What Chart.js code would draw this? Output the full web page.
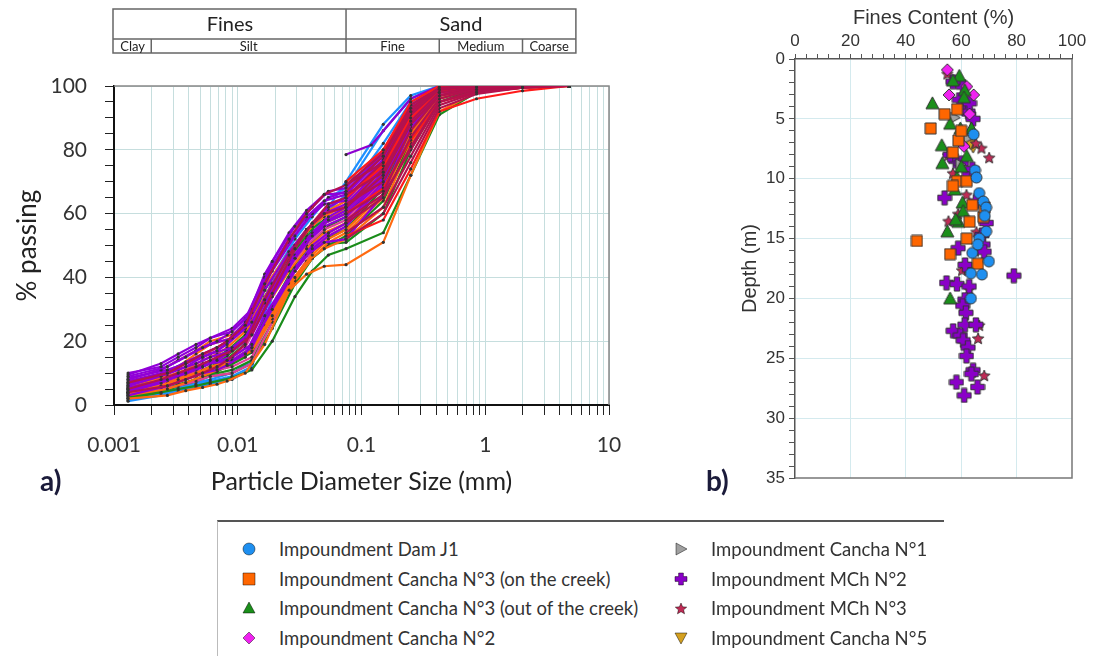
<!DOCTYPE html>
<html>
<head>
<meta charset="utf-8">
<script src="https://cdn.jsdelivr.net/npm/chart.js@4.4.1/dist/chart.umd.min.js"></script>
<style>
  body { margin: 0; background: #fff; width: 1095px; height: 656px; overflow: hidden; position: relative; font-family: Lato, sans-serif; }
  #gsd { position: absolute; left: 0; top: 0; }
  #fines { position: absolute; left: 720px; top: 0; }
  .panel { position: absolute; font-size: 28px; line-height: 32px; color: #1b1b3a; font-weight: bold; }
  #legend { position: absolute; left: 217px; top: 520px; width: 726px; height: 140px; border-top: 2px solid #555; border-left: 1px solid #bbb; }
  .item { position: absolute; font-size: 18.5px; line-height: 22px; color: #333; white-space: nowrap; }
  .icon { position: absolute; }
</style>
</head>
<body>
<canvas id="gsd" width="640" height="510"></canvas>
<canvas id="fines" width="375" height="500"></canvas>
<div class="panel" style="left:40px; top:464px;">a)</div>
<div class="panel" style="left:706px; top:464px;">b)</div>
<div id="legend"></div>
<script>
// ---- a) grain size distribution ----
const hydroDiamA = [0.0013, 0.0024, 0.0033, 0.0046, 0.006, 0.009, 0.013, 0.019, 0.029, 0.04, 0.054];
const hydroDiamB = [0.0013, 0.0027, 0.0038, 0.0052, 0.0068, 0.0082, 0.0115, 0.0165, 0.026, 0.036, 0.05];
const sieveDiam = [0.075, 0.15, 0.25, 0.425, 0.85, 2, 4.75];

// % passing: 11 hydrometer readings then 7 sieves
const bluePass = [
  [1.2, 3, 4.5, 5.5, 6.5, 8, 11.5, 38, 50, 57, 62, 70, 88, 97, 100, 100, 100, 100],
  [2, 3.5, 5, 6.5, 7.5, 9, 12, 34, 47, 55, 61, 66, 82, 95, 99.5, 100, 100, 100],
  [1.5, 4, 5.5, 7, 8, 10, 14, 40, 52, 59, 65, 68, 86, 96, 100, 100, 100, 100]
];
const greenPass = [
  [2.5, 4, 5, 6, 7, 8.5, 11, 20, 34, 42, 47, 49, 54, 72, 91, 98, 99.5, 100],
  [3, 5, 7, 9, 10.5, 12, 15, 27, 40, 47, 52, 55, 68, 86, 97, 99.5, 100, 100],
  [4, 6, 8, 10, 12, 14, 18, 31, 44, 51, 56, 59, 72, 89, 98, 100, 100, 100],
  [5, 7, 9, 11, 13, 15.5, 20, 34, 47, 54, 58, 61, 75, 91, 99, 100, 100, 100],
  [2, 4, 6, 7.5, 9, 10, 13, 24, 38, 46, 50, 53, 64, 83, 96, 99, 100, 100],
  [6, 8, 10, 12.5, 15, 17, 22, 36, 48, 55, 60, 62, 76, 92, 99, 100, 100, 100],
  [3.5, 5.5, 7.5, 9.5, 11, 13, 16.5, 29, 42, 49, 54, 57, 70, 88, 98, 99.5, 100, 100],
  [4.5, 6.5, 8.5, 10.5, 12.5, 14.5, 19, 33, 46, 53, 57, 60, 73, 90, 98.5, 100, 100, 100],
  [2.5, 4.5, 6.5, 8, 9.5, 11, 14, 26, 39, 46, 50.5, 51, 60, 80, 95, 99, 100, 100]
];
const pinkPass = [
  [3.5, 5, 6, 7.5, 9, 10, 13, 26, 40, 48, 53, 56, 70, 89, 98, 100, 100, 100],
  [5, 7, 9, 11, 12, 14, 18, 30, 43, 50, 55, 58, 72, 90, 98, 100, 100, 100],
  [4, 6, 7.5, 9, 10.5, 12, 15, 28, 42, 49, 54, 57, 71, 90, 98, 100, 100, 100]
];
const orangePass = [
  [2, 3, 4.5, 5.5, 6.5, 7.5, 10, 19, 36, 41, 43.5, 44, 51, 72, 92, 98, 99.5, 100],
  [4, 6, 8, 10, 12, 14, 18, 28, 40, 47, 52, 55, 66, 84, 97, 99.5, 100, 100],
  [6, 9, 11, 14, 16, 18, 23, 33, 45, 52, 57, 60, 73, 89, 98, 100, 100, 100],
  [8, 11, 14, 17, 20, 22, 27, 38, 50, 56, 61, 64, 76, 90, 99, 100, 100, 100],
  [3, 5, 7, 9, 11, 13, 16, 25, 38, 45, 49, 52, 62, 82, 96, 99.5, 100, 100],
  [5, 8, 12, 16, 19, 21, 25, 36, 46, 53, 58, 62, 75, 91, 99, 100, 100, 100],
  [7, 10, 13, 15.5, 18, 20, 25, 37, 48, 55, 59, 63, 75, 90, 99, 100, 100, 100],
  [3.5, 5.5, 7.5, 9.5, 11.5, 13.5, 17, 27, 39, 46, 51, 54, 65, 85, 97, 99.5, 100, 100],
  [5.5, 7.5, 9.5, 12, 14, 16, 20, 30, 42, 49, 54, 57, 70, 88, 98, 100, 100, 100]
];
const purplePass = [
  [10, 12, 15, 18, 21, 23, 29, 45, 56, 62, 67, 68, 80, 94, 99.5, 100, 100, 100],
  [9, 12, 15, 18, 20, 22, 27, 40, 52, 59, 64, 66, 78, 93, 99, 100, 100, 100],
  [8, 11, 14, 17, 19, 21, 26, 38, 50, 57, 62, 65, 77, 92, 99, 100, 100, 100],
  [7, 10, 12, 15, 17, 19, 24, 36, 48, 55, 60, 63, 75, 91, 99, 100, 100, 100],
  [6, 9, 11, 13, 15, 17, 22, 34, 46, 53, 58, 61, 73, 90, 98, 100, 100, 100],
  [5, 8, 10, 12, 14, 16, 20, 32, 44, 51, 56, 59, 71, 89, 98, 99.5, 100, 100],
  [4, 7, 9, 11, 13, 15, 19, 30, 42, 49, 53, 56, 69, 88, 98, 99.5, 100, 100],
  [3, 6, 8, 10, 11, 12.5, 16, 28, 40, 47, 51, 52, 66, 87, 97, 99.5, 100, 100],
  [9.5, 13, 16, 19, 21, 24, 30, 42, 53, 60, 65, 67, 79, 94, 99.5, 100, 100, 100],
  [8.5, 11, 13, 15, 17, 19.5, 25, 39, 51, 58, 63, 64, 77, 92, 99, 100, 100, 100],
  [6.5, 9.5, 12, 14.5, 16, 18, 23, 35, 47, 54, 59, 62, 74, 91, 99, 100, 100, 100],
  [5.5, 8, 10.5, 13, 14.5, 16.5, 21, 33, 45, 52, 57, 60, 72, 90, 98.5, 100, 100, 100],
  [4.5, 7, 9.5, 11.5, 13, 14, 18, 31, 43, 50, 54, 57, 70, 88, 98, 99.5, 100, 100],
  [7.5, 10.5, 13.5, 16, 18, 20, 26, 41, 54, 61, 66, 66.5, 79, 93, 99.5, 100, 100, 100]
];
const crimsonHydroPass = [
  [7, 10, 13, 16, 18, 20, 25, 38, 52, 60, 66, 69, 79, 94, 99.5, 100, 100, 100],
  [5, 8, 10, 12, 14, 17, 22, 35, 49, 57, 63, 65, 76, 92, 99, 100, 100, 100],
  [4, 6, 8, 10, 12, 14, 19, 33, 47, 55, 60, 62, 74, 91, 98.5, 100, 100, 100]
];
// sieve-only tests
const redPass = [
  [70, 80, 95, 100, 100, 100, 100],
  [53, 58, 74, 92, 96, 98.5, 100],
  [60, 68, 83, 95, 98, 99.5, 100],
  [65, 75, 90, 98, 99.5, 100, 100]
];
const crimsonPass = [
  [69, 76, 92, 99, 100, 100, 100],
  [66, 73, 89, 98, 99.5, 100, 100],
  [63, 70, 86, 97, 99, 100, 100],
  [60, 67, 84, 96, 99, 100, 100],
  [57, 65, 81, 95, 98.5, 100, 100],
  [54, 62, 78, 94, 98, 99.5, 100],
  [52, 60, 76, 93, 97.5, 99.5, 100],
  [67, 78, 93, 99.5, 100, 100, 100],
  [62, 72, 88, 97, 99.5, 100, 100],
  [58, 66, 80, 95, 98.5, 100, 100]
];
const oddDiam = [0.075, 0.12, 0.25, 0.425, 0.85, 2, 4.75];
const oddPass = [78.5, 81.5, 96, 100, 100, 100, 100];

const xMajorValues = [0.001, 0.01, 0.1, 1, 10];
const xTickLabels = ['0.001', '0.01', '0.1', '1', '10'];

const soilGroups = ['Fines', 'Sand'];
const soilGroupEdges = [0.001, 0.075, 5.4];
const soilClasses = ['Clay', 'Silt', 'Fine', 'Medium', 'Coarse'];
const soilClassEdges = [0.001, 0.002, 0.075, 0.425, 2, 5.4];

// ---- b) fines content vs depth: [fines %, depth m] ----
const damJ1 = [[64.5,6.3],[65,9.3],[65.5,9.9],[66.5,11.2],[68,11.9],[69,12.4],[68.5,13.1],[69,14.4],[66.5,15],[70,16.9],[67.5,18],[63.5,17.9],[63.5,20],[64,16.2],[66,15.5]];
const canchaN3On = [[58.5,4.2],[54,4.6],[49,5.8],[59,6.8],[57,7.8],[58.5,10.2],[62,10.2],[57,10.6],[64,12.2],[68,13.2],[63,13.6],[62,15],[44,15.2],[56,16.3],[66,17.1],[68.5,12.4],[60,6]];
const canchaN3Out = [[59.3,1.4],[57,1.8],[61.3,2.6],[49.6,3.7],[56,5.4],[59.7,5.8],[63.7,5.8],[53,7.2],[62,8.1],[53.2,8.7],[57.7,10.9],[60.5,12],[59,13.6],[60.7,12.7],[55,14.4],[56,20],[58.5,9.9],[60,9],[61,3.2],[58,13.4]];
const canchaN2 = [[55,0.9],[64.5,3],[55.6,3],[62,2.3],[61,7.3],[63,4.6]];
const canchaN1 = [[57.7,4.9],[59.7,8.8],[62.5,6.6]];
const mchN2 = [[60.7,2.3],[59.3,3.4],[61.3,4.2],[62.5,4.4],[64.3,5],[58,8.5],[60.1,8.7],[62.9,9.6],[54,11.6],[65.3,11.9],[69.1,13.7],[67.5,14.7],[67.9,15.5],[58.9,15.8],[68.3,16.1],[61.4,17.2],[54.7,18.7],[58.5,18.8],[62.9,19],[79,18.1],[61.3,20.1],[60.5,20.6],[61.7,21.2],[61.3,22.2],[65.3,22.2],[57.1,22.7],[59.7,23.1],[60.7,23.5],[62.5,24.1],[61.9,24.8],[64.3,26],[63.7,26.3],[58.3,27],[65.9,27.4],[61.1,28.1],[57,1.9],[56,8],[64,9.2],[63,3.7]];
const mchN3 = [[55,1.2],[67.3,7.4],[70.1,8.2],[65.3,7],[55.3,8],[61.9,11.3],[58.9,12.9],[55.4,13.5],[65.5,14.4],[65,16],[61.3,17.1],[60.3,17.6],[62.9,19.2],[66.5,22.2],[66.1,23.3],[68.3,26.4],[62.6,17.5],[60,6.5],[57,9.5]];
const canchaN5 = [[64.3,7.4],[63.3,7.1]];

const seriesNames = ['Impoundment Dam J1', 'Impoundment Cancha N°3 (on the creek)', 'Impoundment Cancha N°3 (out of the creek)', 'Impoundment Cancha N°2',
  'Impoundment Cancha N°1', 'Impoundment MCh N°2', 'Impoundment MCh N°3', 'Impoundment Cancha N°5'];
const seriesPoints = [damJ1, canchaN3On, canchaN3Out, canchaN2, canchaN1, mchN2, mchN3, canchaN5];
const seriesShapes = ['circle', 'square', 'triangle', 'diamond', 'triRight', 'plus', 'star', 'triDown'];
const seriesColors = ['#1E8FF0', '#FF6600', '#1A8F1A', '#F022F0', '#A0A0A0', '#8A00C8', '#C02A55', '#D4A020'];
const seriesSizes = [13, 13, 15, 14, 13, 16, 14, 13];

function makeMarker(shape, fill, size, stroke) {
  const c = document.createElement('canvas');
  c.width = c.height = size;
  const g = c.getContext('2d');
  const h = size / 2, r = h - 1;
  g.fillStyle = fill;
  g.beginPath();
  if (shape === 'circle') {
    g.arc(h, h, r, 0, Math.PI * 2);
  } else if (shape === 'square') {
    g.rect(1, 1, size - 2, size - 2);
  } else if (shape === 'triangle') {
    g.moveTo(h, 1); g.lineTo(size - 1, size - 2); g.lineTo(1, size - 2);
  } else if (shape === 'triDown') {
    g.moveTo(1, 2); g.lineTo(size - 1, 2); g.lineTo(h, size - 1);
  } else if (shape === 'triRight') {
    g.moveTo(2, 1); g.lineTo(size - 1, h); g.lineTo(2, size - 1);
  } else if (shape === 'diamond') {
    g.moveTo(h, 1); g.lineTo(size - 1, h); g.lineTo(h, size - 1); g.lineTo(1, h);
  } else if (shape === 'plus') {
    const a = size * 0.17;
    g.moveTo(h - a, h - r); g.lineTo(h + a, h - r); g.lineTo(h + a, h - a); g.lineTo(h + r, h - a);
    g.lineTo(h + r, h + a); g.lineTo(h + a, h + a); g.lineTo(h + a, h + r); g.lineTo(h - a, h + r);
    g.lineTo(h - a, h + a); g.lineTo(h - r, h + a); g.lineTo(h - r, h - a); g.lineTo(h - a, h - a);
  } else if (shape === 'star') {
    for (let k = 0; k < 10; k++) {
      const rr = k % 2 === 0 ? r : r * 0.45;
      const ang = -Math.PI / 2 + k * Math.PI / 5;
      const px = h + rr * Math.cos(ang), py = h + 1 + rr * Math.sin(ang);
      if (k === 0) g.moveTo(px, py); else g.lineTo(px, py);
    }
  }
  g.closePath();
  g.fill();
  if (stroke) { g.strokeStyle = stroke; g.lineWidth = 1; g.stroke(); }
  return c;
}

// build datasets for a)  (first dataset ends up on top)
const gsdDatasets = [];
function addCurves(rows, color, diamSets) {
  rows.forEach((row, i) => {
    const diam = diamSets[i % diamSets.length];
    gsdDatasets.push({
      data: row.map((p, k) => ({ x: diam[k], y: p })),
      showLine: true, borderColor: color, borderWidth: 2.2,
      pointRadius: 1.6, pointBackgroundColor: '#333', pointBorderWidth: 0
    });
  });
}
const hydroA = hydroDiamA.concat(sieveDiam), hydroB = hydroDiamB.concat(sieveDiam);
addCurves(crimsonPass, '#B3124E', [sieveDiam]);
addCurves(redPass, '#FF1A1A', [sieveDiam]);
addCurves([oddPass], '#8E00D0', [oddDiam]);
addCurves(crimsonHydroPass, '#B3124E', [hydroB, hydroA]);
addCurves(purplePass, '#9000D8', [hydroA, hydroB]);
addCurves(orangePass, '#FF6A10', [hydroB, hydroA]);
addCurves(pinkPass, '#E0409A', [hydroA, hydroB]);
addCurves(greenPass, '#1A8C1A', [hydroA, hydroB]);
addCurves(bluePass, '#1E90FF', [hydroA]);

const xTickValues = [];
xMajorValues.forEach((m, e) => {
  xTickValues.push(m);
  if (e < xMajorValues.length - 1) {
    for (let s = 2; s <= 9; s++) xTickValues.push(+(s * m).toPrecision(3));
  }
});

const gsdGrid = '#c6dede';
const gsdFrame = {
  id: 'gsdFrame',
  beforeDatasetsDraw(chart) {
    const { ctx, chartArea: a } = chart;
    ctx.save();
    ctx.strokeStyle = '#888'; ctx.lineWidth = 1.5;
    ctx.beginPath();
    ctx.moveTo(a.left, a.top); ctx.lineTo(a.right, a.top); ctx.lineTo(a.right, a.bottom);
    ctx.stroke();
    ctx.restore();
  }
};
const classTable = {
  id: 'classTable',
  afterDraw(chart) {
    const { ctx } = chart;
    const xs = chart.scales.x;
    const top = 9, mid = 39, bottom = 53;
    const px = v => xs.getPixelForValue(v);
    ctx.save();
    ctx.strokeStyle = '#666'; ctx.lineWidth = 1.5;
    const left = px(soilClassEdges[0]) - 1, right = px(soilClassEdges[soilClassEdges.length - 1]);
    ctx.strokeRect(left, top, right - left, bottom - top);
    ctx.beginPath(); ctx.moveTo(left, mid); ctx.lineTo(right, mid); ctx.stroke();
    ctx.fillStyle = '#222'; ctx.textAlign = 'center'; ctx.textBaseline = 'middle';
    ctx.font = '20px Lato';
    soilGroups.forEach((t, i) => {
      const a = Math.max(px(soilGroupEdges[i]), left), b = px(soilGroupEdges[i + 1]);
      if (i > 0) { ctx.beginPath(); ctx.moveTo(a, top); ctx.lineTo(a, mid); ctx.stroke(); }
      ctx.fillText(t, (a + b) / 2, (top + mid) / 2 + 1);
    });
    ctx.font = '13px Lato';
    soilClasses.forEach((t, i) => {
      const a = Math.max(px(soilClassEdges[i]), left), b = px(soilClassEdges[i + 1]);
      if (i > 0) { ctx.beginPath(); ctx.moveTo(a, mid); ctx.lineTo(a, bottom); ctx.stroke(); }
      ctx.fillText(t, (a + b) / 2, (mid + bottom) / 2 + 1);
    });
    ctx.restore();
  }
};

new Chart(document.getElementById('gsd'), {
  type: 'scatter',
  data: { datasets: gsdDatasets },
  options: {
    responsive: false, animation: false,
    layout: { padding: { top: 86, right: 31, left: 0, bottom: 0 } },
    plugins: { legend: { display: false }, tooltip: { enabled: false } },
    scales: {
      x: {
        type: 'logarithmic', min: 0.001, max: 10, position: 'bottom',
        afterBuildTicks: s => { s.ticks = xTickValues.map(v => ({ value: v })); },
        afterFit: s => { s.height = 105; },
        ticks: {
          autoSkip: false, maxRotation: 0, padding: 18, color: '#333', font: { family: 'Lato', size: 21 },
          callback: v => { const i = xMajorValues.indexOf(v); return i < 0 ? '' : xTickLabels[i]; }
        },
        grid: { color: gsdGrid, tickColor: '#222', tickLength: 10, lineWidth: 1 },
        border: { color: '#111', width: 2 },
        title: { display: true, text: 'Particle Diameter Size (mm)', color: '#222', font: { family: 'Lato', size: 25 }, padding: { top: 0, bottom: 13 } }
      },
      y: {
        min: 0, max: 100,
        afterFit: s => { s.width = 114; },
        ticks: {
          stepSize: 5, autoSkip: false, padding: 18, color: '#333', font: { family: 'Lato', size: 21 },
          callback: v => v % 20 === 0 ? String(v) : ''
        },
        grid: { color: c => c.tick.value % 20 === 0 ? gsdGrid : 'rgba(0,0,0,0)', tickColor: '#222', tickLength: 9 },
        border: { color: '#111', width: 2 },
        title: { display: true, text: '% passing', color: '#222', font: { family: 'Lato', size: 26 }, padding: { top: 12, bottom: 0 } }
      }
    }
  },
  plugins: [gsdFrame, classTable]
});

// ---- b) chart ----
const finesDatasets = seriesPoints.map((pts, i) => ({
  label: seriesNames[i],
  data: pts.map(p => ({ x: p[0], y: p[1] })),
  pointStyle: makeMarker(seriesShapes[i], seriesColors[i], seriesSizes[i], '#333'),
  pointRadius: seriesSizes[i] / 2
}));
const finesGrid = '#d4eaee';
const finesFrame = {
  id: 'finesFrame',
  beforeDatasetsDraw(chart) {
    const { ctx, chartArea: a } = chart;
    ctx.save();
    ctx.strokeStyle = '#777'; ctx.lineWidth = 1.5;
    ctx.beginPath();
    ctx.moveTo(a.right, a.top); ctx.lineTo(a.right, a.bottom); ctx.lineTo(a.left, a.bottom);
    ctx.stroke();
    ctx.restore();
  }
};
new Chart(document.getElementById('fines'), {
  type: 'scatter',
  data: { datasets: finesDatasets },
  options: {
    responsive: false, animation: false,
    layout: { padding: { top: 0, right: 23, bottom: 22, left: 0 } },
    plugins: { legend: { display: false }, tooltip: { enabled: false } },
    scales: {
      x: {
        position: 'top', min: 0, max: 100,
        afterFit: s => { s.height = 59; },
        ticks: {
          stepSize: 4, autoSkip: false, maxRotation: 0, padding: 2, color: '#333', font: { family: 'Liberation Sans', size: 17 },
          callback: v => v % 20 === 0 ? String(v) : ''
        },
        grid: { color: c => (c.tick.value % 20 === 0 && c.tick.value > 0 && c.tick.value < 100) ? finesGrid : 'rgba(0,0,0,0)', tickColor: '#555', tickLength: 5 },
        border: { color: '#555', width: 1.5 },
        title: { display: true, text: 'Fines Content (%)', color: '#333', font: { family: 'Liberation Sans', size: 20 }, padding: { top: 6, bottom: 0 } }
      },
      y: {
        reverse: true, min: 0, max: 35,
        afterFit: s => { s.width = 75; },
        ticks: {
          stepSize: 1, autoSkip: false, padding: 4, color: '#333', font: { family: 'Liberation Sans', size: 17 },
          callback: v => v % 5 === 0 ? String(v) : ''
        },
        grid: { color: c => (c.tick.value % 5 === 0 && c.tick.value > 0 && c.tick.value < 35) ? finesGrid : 'rgba(0,0,0,0)', tickColor: '#555', tickLength: 6 },
        border: { color: '#555', width: 1.5 },
        title: { display: true, text: 'Depth (m)', color: '#333', font: { family: 'Liberation Sans', size: 20 }, padding: { top: 18, bottom: 0 } }
      }
    }
  },
  plugins: [finesFrame]
});

// ---- legend ----
const legend = document.getElementById('legend');
seriesNames.forEach((name, i) => {
  const col = Math.floor(i / 4), row = i % 4;
  const cy = 27 + row * 29.7;
  const textX = col === 0 ? 61 : 493, markX = col === 0 ? 31 : 463;
  const icon = makeMarker(seriesShapes[i], seriesColors[i], 14, 'rgba(0,0,0,0.45)');
  icon.className = 'icon';
  icon.style.left = (markX - 7) + 'px';
  icon.style.top = (cy - 7) + 'px';
  legend.appendChild(icon);
  const d = document.createElement('div');
  d.className = 'item';
  d.style.left = textX + 'px';
  d.style.top = (cy - 11) + 'px';
  d.textContent = name;
  legend.appendChild(d);
});
</script>
</body>
</html>
